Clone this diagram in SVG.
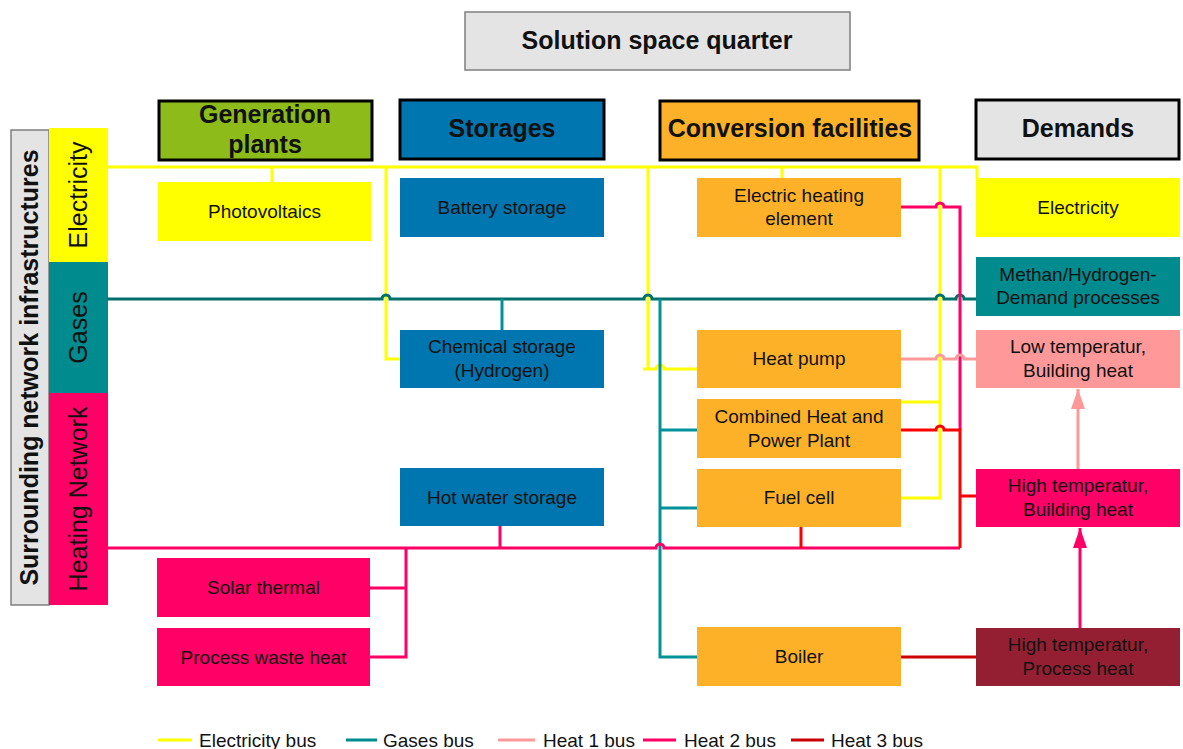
<svg xmlns="http://www.w3.org/2000/svg" width="1183" height="749" viewBox="0 0 1183 749">
<style>
text{font-family:"Liberation Sans",Arial,sans-serif;fill:#111;}
.hd{font-weight:bold;font-size:25px;text-anchor:middle;}
.bt{font-size:19px;text-anchor:middle;}
.lg{font-size:19px;}
.side{font-size:25px;text-anchor:middle;}
.hbox{stroke:#000;stroke-width:3;}
.ln{fill:none;stroke-width:3;}
.el{stroke:#ffff00;}
.gb{stroke:#00706a;}
.gs{stroke:#00929a;}
.h1{stroke:#ff9999;}
.h2{stroke:#ff0066;}
.h3{stroke:#ff0000;}
.h3d{stroke:#cc0000;}
</style>
<defs>
<marker id="ahL" viewBox="0 0 20 14" refX="20" refY="7" markerWidth="20" markerHeight="14" markerUnits="userSpaceOnUse" orient="auto"><path d="M0,0 L20,7 L0,14 z" fill="#ff9999"/></marker>
<marker id="ahP" viewBox="0 0 20 14" refX="20" refY="7" markerWidth="20" markerHeight="14" markerUnits="userSpaceOnUse" orient="auto"><path d="M0,0 L20,7 L0,14 z" fill="#ff0066"/></marker>
</defs>
<rect width="1183" height="749" fill="#fff"/>

<g id="title"><rect x="465" y="12" width="385" height="58" fill="#e4e4e4" stroke="#7f7f7f" stroke-width="1.5"/><text class="hd" x="657" y="49">Solution space quarter</text></g>

<g id="hdr-gen"><rect class="hbox" x="159" y="101" width="213" height="59" fill="#8cbb1a"/><text class="hd" x="265" y="123">Generation</text><text class="hd" x="265" y="153">plants</text></g>
<g id="hdr-sto"><rect class="hbox" x="400" y="100" width="204" height="59" fill="#0076b0"/><text class="hd" x="502" y="137">Storages</text></g>
<g id="hdr-conv"><rect class="hbox" x="660" y="101" width="259" height="59" fill="#fdb128"/><text class="hd" x="790" y="137">Conversion facilities</text></g>
<g id="hdr-dem"><rect class="hbox" x="976" y="100" width="203" height="59" fill="#e4e4e4"/><text class="hd" x="1078" y="137">Demands</text></g>

<g id="side-surr"><rect x="11" y="130" width="38" height="475" fill="#e4e4e4" stroke="#7f7f7f" stroke-width="1.5"/><text class="side" style="font-weight:bold" transform="translate(38,367.5) rotate(-90)">Surrounding network infrastructures</text></g>
<g id="side-el"><rect x="49" y="128" width="59" height="134" fill="#ffff00"/><text class="side" transform="translate(87,195) rotate(-90)">Electricity</text></g>
<g id="side-gas"><rect x="49" y="262" width="59" height="131" fill="#008b8f"/><text class="side" transform="translate(87,327.5) rotate(-90)">Gases</text></g>
<g id="side-heat"><rect x="49" y="393" width="59" height="212" fill="#ff0066"/><text class="side" transform="translate(87,499) rotate(-90)">Heating Network</text></g>

<g id="connectors">
<path class="ln el" d="M107,167 H977 V178"/>
<path class="ln el" d="M272,167 V182"/>
<path class="ln el" d="M386,167 V359 H400"/>
<path class="ln el" d="M648,167 V369"/>
<path class="ln el" d="M643,369 H656 a4,4 0 0 1 8,0 H697"/>
<path class="ln el" d="M782,167 V178"/>
<path class="ln el" d="M940,167 V498 H900"/>
<path class="ln el" d="M940,402 H900"/>

<path class="ln gb" d="M107,299 H382 a4,4 0 0 1 8,0 H644 a4,4 0 0 1 8,0 H936 a4,4 0 0 1 8,0 H956 a4,4 0 0 1 8,0 H976"/>
<path class="ln gs" d="M502,299 V330"/>
<path class="ln gs" d="M660,299 V657 H697"/>
<path class="ln gs" d="M660,430 H697"/>
<path class="ln gs" d="M660,508 H697"/>

<path class="ln h2" d="M107,548 H656 a4,4 0 0 1 8,0 H960"/>
<path class="ln h2" d="M406,548 V657 H370"/>
<path class="ln h2" d="M406,588 H370"/>
<path class="ln h2" d="M500,526 V548"/>
<path class="ln h2" d="M900,207 H936 a4,4 0 0 1 8,0 H960 V430"/>

<path class="ln h3" d="M900,430 H936 a4,4 0 0 1 8,0 H960 V548"/>
<path class="ln h3" d="M960,496 H976"/>
<path class="ln h3" d="M801,527 V548"/>
<path class="ln h3d" d="M900,657 H976"/>

<path class="ln h1" d="M900,359 H936 a4,4 0 0 1 8,0 H956 a4,4 0 0 1 8,0 H976"/>

<path class="ln h1" d="M1078,469 V389" marker-end="url(#ahL)"/>
<path class="ln h2" d="M1080,628 V528" marker-end="url(#ahP)"/>
</g>

<g id="n-pv"><rect x="158" y="182" width="213" height="59" fill="#ffff00"/><text class="bt" x="264.5" y="218">Photovoltaics</text></g>
<g id="n-bat"><rect x="400" y="178" width="204" height="59" fill="#0076b0"/><text class="bt" x="502" y="214">Battery storage</text></g>
<g id="n-chem"><rect x="400" y="330" width="204" height="58" fill="#0076b0"/><text class="bt" x="502" y="353">Chemical storage</text><text class="bt" x="502" y="377">(Hydrogen)</text></g>
<g id="n-hw"><rect x="400" y="468" width="204" height="58" fill="#0076b0"/><text class="bt" x="502" y="504">Hot water storage</text></g>
<g id="n-solar"><rect x="157" y="558" width="213" height="59" fill="#ff0066"/><text class="bt" x="263.5" y="594">Solar thermal</text></g>
<g id="n-waste"><rect x="157" y="628" width="213" height="58" fill="#ff0066"/><text class="bt" x="263.5" y="664">Process waste heat</text></g>

<g id="n-ehe"><rect x="697" y="178" width="204" height="59" fill="#fdb128"/><text class="bt" x="799" y="202">Electric heating</text><text class="bt" x="799" y="225">element</text></g>
<g id="n-hp"><rect x="697" y="330" width="204" height="58" fill="#fdb128"/><text class="bt" x="799" y="365">Heat pump</text></g>
<g id="n-chp"><rect x="697" y="399" width="204" height="59" fill="#fdb128"/><text class="bt" x="799" y="423">Combined Heat and</text><text class="bt" x="799" y="447">Power Plant</text></g>
<g id="n-fc"><rect x="697" y="469" width="204" height="58" fill="#fdb128"/><text class="bt" x="799" y="504">Fuel cell</text></g>
<g id="n-boiler"><rect x="697" y="627" width="204" height="59" fill="#fdb128"/><text class="bt" x="799" y="663">Boiler</text></g>

<g id="n-del"><rect x="976" y="178" width="204" height="59" fill="#ffff00"/><text class="bt" x="1078" y="214">Electricity</text></g>
<g id="n-dgas"><rect x="976" y="257" width="204" height="59" fill="#008b8f"/><text class="bt" x="1078" y="281">Methan/Hydrogen-</text><text class="bt" x="1078" y="304">Demand processes</text></g>
<g id="n-low"><rect x="976" y="330" width="204" height="58" fill="#ff9999"/><text class="bt" x="1078" y="353">Low temperatur,</text><text class="bt" x="1078" y="377">Building heat</text></g>
<g id="n-highb"><rect x="976" y="469" width="204" height="58" fill="#ff0066"/><text class="bt" x="1078" y="492">High temperatur,</text><text class="bt" x="1078" y="516">Building heat</text></g>
<g id="n-highp"><rect x="976" y="628" width="204" height="58" fill="#951f32"/><text class="bt" x="1078" y="651">High temperatur,</text><text class="bt" x="1078" y="675">Process heat</text></g>

<g id="legend">
<line class="ln el" x1="158" y1="740" x2="192" y2="740"/><text class="lg" x="199" y="747">Electricity bus</text>
<line class="ln" stroke="#008b8f" x1="346" y1="740" x2="377" y2="740"/><text class="lg" x="383" y="747">Gases bus</text>
<line class="ln h1" x1="498" y1="740" x2="535" y2="740"/><text class="lg" x="543" y="747">Heat 1 bus</text>
<line class="ln h2" x1="643" y1="740" x2="676" y2="740"/><text class="lg" x="684" y="747">Heat 2 bus</text>
<line class="ln h3d" x1="791" y1="740" x2="824" y2="740"/><text class="lg" x="831" y="747">Heat 3 bus</text>
</g>
</svg>
